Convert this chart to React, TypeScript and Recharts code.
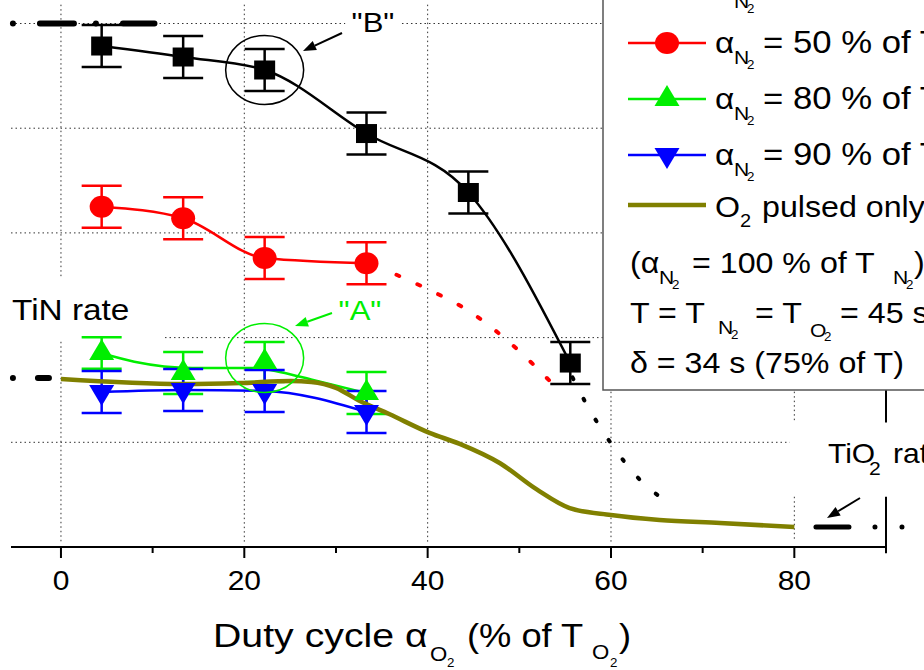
import React from 'react';
import { ComposedChart, Line, XAxis, YAxis, ErrorBar, ReferenceLine, ReferenceDot } from 'recharts';

const W = 924;
const H = 670;
const FONT = '"Liberation Sans", Arial, sans-serif';
const SX = 1.11; // the picture is stretched sideways a little, text too

// duty cycle of O2 pulses (% of T_O2)
const duty = [4.44, 13.33, 22.22, 33.33, 44.44, 55.56];

// deposition rate (arbitrary units, 1 per grid line)
const blackRate = [4.785, 4.68, 4.556, 3.949, 3.386, 1.757];
const blackErr = [0.2, 0.2, 0.2, 0.2, 0.2, 0.2];
const redRate = [3.25, 3.14, 2.76, 2.71];
const redErr = [0.2, 0.2, 0.2, 0.2];
const greenRate = [1.853, 1.662, 1.767, 1.471];
const greenErr = [0.15, 0.2, 0.19, 0.2];
const blueRate = [1.48, 1.5, 1.49, 1.289];
const blueErr = [0.2, 0.2, 0.2, 0.2];

// smoothed green curve (does not go through the markers exactly)
const greenFitX = [4.44, 8, 14.3, 21, 24, 27.5, 33.33];
const greenFitY = [1.85, 1.77, 1.71, 1.71, 1.67, 1.595, 1.47];

// O2 pulsed only
const o2X = [0, 13.3, 19.6, 25.1, 27.3, 30, 32.5, 35.8, 40.2, 43.5, 47.9, 51.9, 55.5, 60, 65.3, 71.9, 80];
const o2Y = [1.605, 1.557, 1.566, 1.585, 1.576, 1.52, 1.4, 1.27, 1.09, 0.985, 0.8, 0.55, 0.372, 0.306, 0.258, 0.229, 0.191];

// dotted extrapolations
const redDotX = [36.6, 39.6, 44.9, 49.5, 53.5];
const redDotY = [2.6, 2.48, 2.23, 1.91, 1.57];
const blackDotX = [55.8, 57.1, 60, 63.4, 66];
const blackDotY = [1.62, 1.4, 0.99, 0.62, 0.44];

const xTicks = [0, 10, 20, 30, 40, 50, 60, 70, 80];

const legendText = ['= 25 % of T', '= 50 % of T', '= 80 % of T', '= 90 % of T'];

const pts = (xs: number[], ys: number[], es?: number[]) =>
  xs.map((x, i) => ({ x, y: ys[i], e: es ? es[i] : 0 }));

const GRID = { stroke: '#333', strokeWidth: 1, strokeDasharray: '1.5 3' };

const Txt = ({ x, y, size, fill = '#000', anchor = 'start', sx = SX, children }: any) => (
  <text
    transform={`translate(${x},${y}) scale(${sx},1)`}
    fontSize={size}
    fill={fill}
    textAnchor={anchor}
    fontFamily={FONT}
  >
    {children}
  </text>
);

const square = (cx: number, cy: number, k?: any) => (
  <rect key={k} x={cx - 10.5} y={cy - 9.5} width={21} height={19} fill="#000" />
);
const circle = (cx: number, cy: number, k?: any) => (
  <ellipse key={k} cx={cx} cy={cy} rx={12} ry={11} fill="#ff0000" />
);
const triUp = (cx: number, cy: number, k?: any) => (
  <polygon key={k} points={`${cx},${cy - 14} ${cx - 12.5},${cy + 7} ${cx + 12.5},${cy + 7}`} fill="#00ee00" />
);
const triDown = (cx: number, cy: number, k?: any) => (
  <polygon key={k} points={`${cx},${cy + 14} ${cx - 12.5},${cy - 7} ${cx + 12.5},${cy - 7}`} fill="#0000ff" />
);

const dotOf = (fn: any) => (p: any) =>
  p.cx == null ? <g key={`e${p.index}`} /> : fn(p.cx, p.cy, `d${p.index}`);

const XTick = (props: any) => {
  const { x, y, payload } = props;
  const major = payload.value % 20 === 0;
  return (
    <g>
      <line x1={x} x2={x} y1={y} y2={y + (major ? 11 : 6)} stroke="#000" strokeWidth={2} />
      {major && (
        <Txt x={x} y={590} size={27} anchor="middle">
          {payload.value}
        </Txt>
      )}
    </g>
  );
};

const Arrow = ({ x1, y1, x2, y2, color }: any) => {
  const a = Math.atan2(y2 - y1, x2 - x1);
  const L = 13;
  const w = 5;
  const bx = x2 - L * Math.cos(a);
  const by = y2 - L * Math.sin(a);
  const p1 = `${bx + w * Math.sin(a)},${by - w * Math.cos(a)}`;
  const p2 = `${bx - w * Math.sin(a)},${by + w * Math.cos(a)}`;
  return (
    <g>
      <line x1={x1} y1={y1} x2={bx} y2={by} stroke={color} strokeWidth={2} />
      <polygon points={`${x2},${y2} ${p1} ${p2}`} fill={color} />
    </g>
  );
};

const ring = (color: string) => (p: any) => (
  <ellipse cx={p.cx} cy={p.cy} rx={39} ry={34.5} fill="none" stroke={color} strokeWidth={1.5} />
);

const legendRows = [
  { y: -13, color: '#000', mark: square },
  { y: 43, color: '#ff0000', mark: circle },
  { y: 99, color: '#00ee00', mark: triUp },
  { y: 155, color: '#0000ff', mark: triDown },
];

const NSub = ({ x, b }: any) => (
  <g>
    <Txt x={x} y={b + 11} size={19}>N</Txt>
    <Txt x={x + 13} y={b + 16} size={12}>2</Txt>
  </g>
);

const Overlay = () => (
  <svg width={W} height={H} style={{ position: 'absolute', left: 0, top: 0, pointerEvents: 'none' }}>
    {/* annotations */}
    <Txt x={373} y={32} size={28} anchor="middle">"B"</Txt>
    <Arrow x1={342} y1={33} x2={303} y2={51} color="#000" />
    <Txt x={360} y={320} size={28} anchor="middle" fill="#00ee00">"A"</Txt>
    <Arrow x1={332} y1={313} x2={295} y2={326} color="#00ee00" />
    <Txt x={12} y={320} size={29} sx={1.15}>TiN rate</Txt>
    <Txt x={828} y={463} size={27}>TiO</Txt>
    <Txt x={869} y={475} size={19}>2</Txt>
    <Txt x={893} y={463} size={27}>rate</Txt>
    <Arrow x1={860} y1={498} x2={827} y2={518} color="#000" />

    {/* axis title */}
    <Txt x={213} y={647} size={33} sx={1.19}>Duty cycle α</Txt>
    <Txt x={430} y={661} size={20}>O</Txt>
    <Txt x={447} y={667} size={12}>2</Txt>
    <Txt x={467} y={647} size={33} sx={1.1}>(% of T</Txt>
    <Txt x={592} y={659} size={20}>O</Txt>
    <Txt x={610} y={667} size={12}>2</Txt>
    <Txt x={619} y={647} size={33} sx={1.1}>)</Txt>

    {/* legend */}
    <rect x={603} y={-100} width={400} height={490} fill="#fff" stroke="#555" strokeWidth={1.5} />
    {legendRows.map((r, i) => (
      <g key={i}>
        <line x1={628} x2={706} y1={r.y} y2={r.y} stroke={r.color} strokeWidth={2.5} />
        {r.mark(667, r.y)}
        <Txt x={715} y={r.y + 10} size={30}>α</Txt>
        <NSub x={734} b={r.y + 10} />
        <Txt x={763} y={r.y + 10} size={31} sx={1.12}>{legendText[i]}</Txt>
      </g>
    ))}
    <line x1={628} x2={706} y1={205} y2={205} stroke="#808000" strokeWidth={4.5} />
    <Txt x={715} y={217} size={29}>O</Txt>
    <Txt x={740} y={227} size={18}>2</Txt>
    <Txt x={762} y={217} size={29}>pulsed only</Txt>

    <Txt x={630} y={273} size={29}>(α</Txt>
    <NSub x={659} b={273} />
    <Txt x={692} y={273} size={29}>= 100 % of T</Txt>
    <NSub x={893} b={273} />
    <Txt x={914} y={273} size={29}>)</Txt>

    <Txt x={630} y={323} size={29}>T = T</Txt>
    <NSub x={718} b={323} />
    <Txt x={755} y={323} size={29}>= T</Txt>
    <Txt x={810} y={337} size={19}>O</Txt>
    <Txt x={824} y={341} size={12}>2</Txt>
    <Txt x={840} y={323} size={29}>= 45 s</Txt>

    <Txt x={630} y={373} size={29}>δ = 34 s (75% of T)</Txt>
  </svg>
);

export default function App() {
  return (
    <div style={{ position: 'absolute', left: 0, top: 0, width: W, height: H, overflow: 'hidden', background: '#fff' }}>
      <ComposedChart width={W} height={H} margin={{ top: 1, right: 38, left: 11, bottom: 93 }}>
        <XAxis
          dataKey="x"
          type="number"
          domain={[-5.45, 90]}
          allowDataOverflow
          ticks={xTicks}
          tick={<XTick />}
          tickLine={false}
          tickSize={0}
          tickMargin={0}
          height={30}
          axisLine={{ stroke: '#000', strokeWidth: 2 }}
        />
        <YAxis type="number" domain={[0, 5.215]} allowDataOverflow hide />

        {/* dotted grid, broken where the picture has text */}
        <ReferenceLine segment={[{ x: -5.45, y: 5 }, { x: 31, y: 5 }]} {...GRID} />
        <ReferenceLine segment={[{ x: 37.2, y: 5 }, { x: 66, y: 5 }]} {...GRID} />
        <ReferenceLine segment={[{ x: -5.45, y: 4 }, { x: 66, y: 4 }]} {...GRID} />
        <ReferenceLine segment={[{ x: -5.45, y: 3 }, { x: 66, y: 3 }]} {...GRID} />
        <ReferenceLine segment={[{ x: 11.35, y: 2 }, { x: 66, y: 2 }]} {...GRID} />
        <ReferenceLine segment={[{ x: -5.45, y: 1 }, { x: 79.5, y: 1 }]} {...GRID} />
        <ReferenceLine segment={[{ x: 0, y: 5.18 }, { x: 0, y: 2.57 }]} {...GRID} />
        <ReferenceLine segment={[{ x: 0, y: 1.96 }, { x: 0, y: 0.04 }]} {...GRID} />
        <ReferenceLine segment={[{ x: 20, y: 5.18 }, { x: 20, y: 0.04 }]} {...GRID} />
        <ReferenceLine segment={[{ x: 40, y: 5.18 }, { x: 40, y: 0.04 }]} {...GRID} />
        <ReferenceLine segment={[{ x: 60, y: 5.18 }, { x: 60, y: 0.04 }]} {...GRID} />
        <ReferenceLine segment={[{ x: 80, y: 5.18 }, { x: 80, y: 1.21 }]} {...GRID} />
        <ReferenceLine segment={[{ x: 80, y: 0.48 }, { x: 80, y: 0.06 }]} {...GRID} />

        {/* right axis */}
        <ReferenceLine segment={[{ x: 90, y: 5.215 }, { x: 90, y: 1.19 }]} stroke="#000" strokeWidth={2} />
        <ReferenceLine segment={[{ x: 90, y: 0.48 }, { x: 90, y: -0.06 }]} stroke="#000" strokeWidth={2} ifOverflow="visible" />

        {/* reference rate levels */}
        <ReferenceLine
          segment={[{ x: -5.24, y: 5 }, { x: 10.2, y: 5 }]}
          stroke="#000"
          strokeWidth={6}
          strokeLinecap="round"
          strokeDasharray="0.01 27 34 22"
          ifOverflow="visible"
        />
        <ReferenceLine
          segment={[{ x: -5.24, y: 1.614 }, { x: -1.31, y: 1.614 }]}
          stroke="#000"
          strokeWidth={6}
          strokeLinecap="round"
          strokeDasharray="0.01 25 11 40"
          ifOverflow="visible"
        />
        <ReferenceLine
          segment={[{ x: 82.36, y: 0.191 }, { x: 91.85, y: 0.191 }]}
          stroke="#000"
          strokeWidth={5}
          strokeLinecap="round"
          strokeDasharray="33 26 0.01 27 0.01 40"
          ifOverflow="visible"
        />

        <Line
          data={pts(duty, blackRate, blackErr)}
          dataKey="y"
          type="monotone"
          stroke="#000"
          strokeWidth={2.5}
          dot={dotOf(square)}
          isAnimationActive={false}
        >
          <ErrorBar dataKey="e" width={20} strokeWidth={2.5} stroke="#000" direction="y" />
        </Line>
        <Line
          data={pts(duty.slice(0, 4), redRate, redErr)}
          dataKey="y"
          type="monotone"
          stroke="#ff0000"
          strokeWidth={2.5}
          dot={dotOf(circle)}
          isAnimationActive={false}
        >
          <ErrorBar dataKey="e" width={20} strokeWidth={2.5} stroke="#ff0000" direction="y" />
        </Line>
        <Line
          data={pts(greenFitX, greenFitY)}
          dataKey="y"
          type="monotone"
          stroke="#00ee00"
          strokeWidth={2.5}
          dot={false}
          isAnimationActive={false}
        />
        <Line
          data={pts(duty.slice(0, 4), greenRate, greenErr)}
          dataKey="y"
          stroke="none"
          dot={dotOf(triUp)}
          isAnimationActive={false}
        >
          <ErrorBar dataKey="e" width={20} strokeWidth={2.5} stroke="#00ee00" direction="y" />
        </Line>
        <Line
          data={pts(duty.slice(0, 4), blueRate, blueErr)}
          dataKey="y"
          type="monotone"
          stroke="#0000ff"
          strokeWidth={2.5}
          dot={dotOf(triDown)}
          isAnimationActive={false}
        >
          <ErrorBar dataKey="e" width={20} strokeWidth={2.5} stroke="#0000ff" direction="y" />
        </Line>
        <Line
          data={pts(o2X, o2Y)}
          dataKey="y"
          type="monotone"
          stroke="#808000"
          strokeWidth={4.5}
          dot={false}
          isAnimationActive={false}
        />
        <Line
          data={pts(redDotX, redDotY)}
          dataKey="y"
          type="monotone"
          stroke="#ff0000"
          strokeWidth={4}
          strokeLinecap="round"
          strokeDasharray="3 20"
          dot={false}
          isAnimationActive={false}
        />
        <Line
          data={pts(blackDotX, blackDotY)}
          dataKey="y"
          type="monotone"
          stroke="#000"
          strokeWidth={4}
          strokeLinecap="round"
          strokeDasharray="2 22"
          dot={false}
          isAnimationActive={false}
        />

        <ReferenceDot x={duty[2]} y={blackRate[2]} r={39} shape={ring('#000')} />
        <ReferenceDot x={duty[2]} y={1.805} r={39} shape={ring('#00ee00')} />
      </ComposedChart>
      <Overlay />
    </div>
  );
}
